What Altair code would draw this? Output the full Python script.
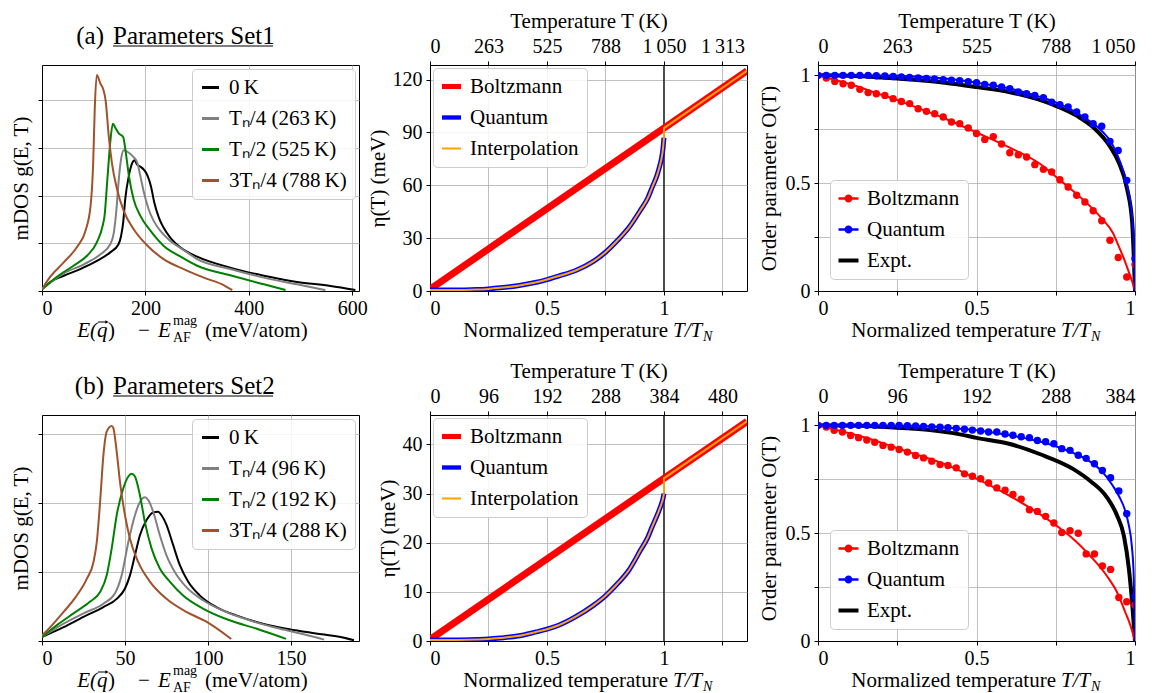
import altair as alt
import pandas as pd

FONT = "Liberation Serif"
W, H = 317, 226

# ---------------- mDOS (left panels) ----------------
dos_colors = ["#000000", "#808080", "#008000", "#a0522d"]
dos1_labels = ["0\u2009K", "T\u2099/4 (263\u2009K)", "T\u2099/2 (525\u2009K)", "3T\u2099/4 (788\u2009K)"]
dos2_labels = ["0\u2009K", "T\u2099/4 (96\u2009K)", "T\u2099/2 (192\u2009K)", "3T\u2099/4 (288\u2009K)"]

dos1_E_0K = [0, 16, 42, 74, 106, 132, 148, 153, 157, 161, 168, 174, 179, 184, 190, 198, 204, 211, 217, 226,
             235, 248, 268, 300, 364, 429, 493, 558, 606]
dos1_g_0K = [0.035, 0.19, 0.32, 0.46, 0.63, 0.81, 0.98, 1.16, 1.44, 1.93, 2.42, 2.67, 2.74, 2.65, 2.61, 2.53,
             2.42, 2.18, 1.86, 1.54, 1.33, 1.12, 0.91, 0.72, 0.49, 0.32, 0.19, 0.105, 0.02]
dos1_E_q1 = [0, 42, 81, 113, 132, 139, 144, 148, 153, 158, 168, 177, 184, 190, 197, 206, 216, 229, 248, 274,
             300, 364, 429, 493, 548]
dos1_g_q1 = [0.035, 0.37, 0.56, 0.77, 0.98, 1.23, 1.72, 2.28, 2.77, 2.95, 2.90, 2.81, 2.70, 2.42, 2.07, 1.72,
             1.47, 1.26, 1.05, 0.86, 0.67, 0.46, 0.28, 0.14, 0.02]
dos1_E_q2 = [0, 29, 61, 87, 106, 118, 121, 126, 132, 137, 142, 148, 157, 161, 168, 177, 190, 210, 235, 268,
             300, 364, 429, 471]
dos1_g_q2 = [0.035, 0.30, 0.53, 0.74, 1.02, 1.40, 1.58, 2.28, 3.12, 3.51, 3.42, 3.31, 3.23, 2.98, 2.42, 1.93,
             1.58, 1.26, 0.95, 0.72, 0.53, 0.33, 0.14, 0.02]
dos1_E_q3 = [0, 16, 42, 68, 84, 94, 99, 102, 106, 113, 119, 123, 129, 135, 145, 158, 177, 203, 235, 274, 313,
             352, 368]
dos1_g_q3 = [0.035, 0.30, 0.60, 0.93, 1.26, 1.79, 2.70, 3.82, 4.53, 4.35, 4.21, 4.00, 3.26, 2.70, 2.14, 1.68,
             1.30, 0.96, 0.67, 0.46, 0.28, 0.12, 0.02]

dos2_E_0K = [0, 13, 25, 37, 45, 50, 53, 56, 59, 63, 67, 70, 72, 75, 79, 83, 88, 95, 105, 117, 133, 149, 165,
             179, 188]
dos2_g_0K = [0.058, 0.20, 0.35, 0.49, 0.61, 0.76, 0.95, 1.24, 1.53, 1.75, 1.86, 1.87, 1.82, 1.68, 1.39, 1.10,
             0.86, 0.66, 0.49, 0.37, 0.25, 0.17, 0.11, 0.06, 0.01]
dos2_E_q1 = [0, 13, 25, 37, 44, 48, 52, 56, 59, 62, 64, 67, 71, 75, 80, 87, 97, 109, 125, 143, 159, 170]
dos2_g_q1 = [0.058, 0.25, 0.40, 0.54, 0.69, 0.95, 1.43, 1.82, 2.01, 2.08, 2.04, 1.87, 1.53, 1.24, 1.00, 0.78,
             0.59, 0.44, 0.30, 0.18, 0.09, 0.02]
dos2_E_q2 = [0, 9, 19, 29, 35, 39, 42, 45, 49, 52, 54, 56, 59, 62, 66, 71, 77, 85, 97, 113, 129, 147]
dos2_g_q2 = [0.058, 0.23, 0.40, 0.57, 0.71, 0.95, 1.34, 1.82, 2.21, 2.38, 2.42, 2.38, 2.11, 1.72, 1.34, 1.05,
             0.86, 0.66, 0.47, 0.30, 0.18, 0.03]
dos2_E_q3 = [0, 5, 13, 21, 27, 31, 33, 35, 37, 39, 42, 43, 45, 47, 50, 53, 58, 65, 75, 87, 99, 114]
dos2_g_q3 = [0.08, 0.20, 0.42, 0.66, 0.90, 1.14, 1.43, 2.01, 2.69, 3.03, 3.11, 3.08, 2.74, 2.30, 1.82, 1.48,
             1.14, 0.86, 0.61, 0.42, 0.28, 0.03]

# ---------------- eta(T) (middle panels) ----------------
eta_labels = ["Boltzmann", "Quantum", "Interpolation"]
eta_colors = ["#ff0000", "#0000ff", "#ffa500"]
q_t = [0, 0.1, 0.2, 0.25, 0.3, 0.375, 0.45, 0.5, 0.55, 0.625, 0.7, 0.75, 0.8, 0.85, 0.9, 0.93, 0.95, 0.97,
       0.98, 0.99, 0.996, 1.0]
q1_eta = [0.5, 0.5, 0.8, 1.2, 1.8, 3.0, 4.8, 6.5, 8.5, 11.8, 17.0, 22.0, 28.5, 36.0, 46.0, 52.5, 59.0, 65.5,
          70.0, 75.5, 81.0, 87.0]
q2_eta = [0.2, 0.2, 0.3, 0.4, 0.6, 1.0, 1.8, 2.4, 3.2, 5.0, 7.3, 9.2, 11.6, 14.4, 18.5, 21.0, 23.3, 25.5,
          26.7, 28.0, 29.0, 30.0]
b_t = [0, 1.0, 1.355]
b1_eta = [1.0, 92.5, 125.0]
b2_eta = [0.3, 33.1, 44.7]
# interpolation: quantum below T_N, then jump to Boltzmann above
jump_t = [1.0, 1.0, 1.355]
i1_jump = [87.0, 92.5, 125.0]
i2_jump = [30.0, 33.1, 44.7]

# ---------------- order parameter (right panels) ----------------
op_labels = ["Boltzmann", "Quantum", "Expt."]
op_colors = ["#ff0000", "#0000ff", "#000000"]
dots1_t = [0, 0.026, 0.053, 0.079, 0.105, 0.132, 0.158, 0.184, 0.211, 0.237, 0.263, 0.289, 0.316, 0.342,
           0.368, 0.395, 0.421, 0.447, 0.474, 0.5, 0.526, 0.553, 0.579, 0.605, 0.632, 0.658, 0.684, 0.711,
           0.737, 0.763, 0.789, 0.816, 0.842, 0.868, 0.895, 0.921, 0.947, 0.974, 1.0]
dots1_red = [1.0, 0.988, 0.972, 0.961, 0.954, 0.935, 0.920, 0.915, 0.907, 0.892, 0.879, 0.869, 0.845, 0.833,
             0.822, 0.807, 0.784, 0.776, 0.756, 0.730, 0.703, 0.716, 0.682, 0.641, 0.632, 0.621, 0.586, 0.564,
             0.552, 0.516, 0.482, 0.444, 0.413, 0.372, 0.326, 0.235, 0.155, 0.065, 0.122]
dots1_blue = [1.0, 1.0, 1.0, 1.0, 1.0, 1.0, 1.0, 0.998, 0.997, 0.995, 0.993, 0.99, 0.988, 0.986, 0.983, 0.98,
              0.977, 0.975, 0.971, 0.966, 0.958, 0.954, 0.946, 0.938, 0.923, 0.915, 0.907, 0.896, 0.876,
              0.864, 0.853, 0.830, 0.807, 0.776, 0.764, 0.694, 0.652, 0.513, 0.15]
fit1_red_t = [0, 0.1, 0.2, 0.25, 0.3, 0.4, 0.5, 0.6, 0.7, 0.764, 0.8, 0.85, 0.896, 0.93, 0.948, 0.965, 0.98,
              0.992, 1.0]
fit1_red = [1.0, 0.96, 0.91, 0.885, 0.857, 0.80, 0.735, 0.668, 0.59, 0.513, 0.47, 0.405, 0.335, 0.27, 0.21,
            0.15, 0.09, 0.04, 0.0]
fit1_blue_t = [0, 0.2, 0.3, 0.4, 0.5, 0.6, 0.7, 0.75, 0.8, 0.85, 0.87, 0.9, 0.92, 0.95, 0.974, 0.988, 0.996, 1.0]
fit1_blue = [1.0, 0.999, 0.995, 0.985, 0.966, 0.94, 0.9, 0.875, 0.84, 0.795, 0.775, 0.735, 0.70, 0.61, 0.50,
             0.38, 0.24, 0.0]
expt1_t = [0, 0.1, 0.2, 0.25, 0.4, 0.5, 0.606, 0.738, 0.817, 0.869, 0.922, 0.948, 0.975, 0.991, 1.0]
expt1 = [1.0, 0.998, 0.99, 0.985, 0.966, 0.946, 0.922, 0.866, 0.812, 0.758, 0.668, 0.598, 0.474, 0.32, 0.0]

dots2_t = [0, 0.026, 0.051, 0.077, 0.103, 0.128, 0.154, 0.179, 0.205, 0.231, 0.256, 0.282, 0.308, 0.333,
           0.359, 0.385, 0.41, 0.436, 0.462, 0.487, 0.513, 0.538, 0.564, 0.59, 0.615, 0.641, 0.667, 0.692,
           0.718, 0.744, 0.769, 0.795, 0.821, 0.846, 0.872, 0.897, 0.923, 0.949, 0.974, 1.0]
dots2_red = [1.0, 0.992, 0.977, 0.969, 0.953, 0.943, 0.932, 0.922, 0.907, 0.899, 0.888, 0.876, 0.860, 0.849,
             0.834, 0.818, 0.814, 0.803, 0.775, 0.764, 0.752, 0.733, 0.710, 0.699, 0.679, 0.658, 0.609, 0.601,
             0.578, 0.547, 0.503, 0.512, 0.500, 0.404, 0.404, 0.348, 0.332, 0.202, 0.182, 0.166]
dots2_blue = [1.0, 1.0, 1.0, 1.0, 1.0, 1.0, 1.0, 1.0, 1.0, 1.0, 0.999, 0.998, 0.997, 0.995, 0.993, 0.991,
              0.989, 0.986, 0.982, 0.978, 0.974, 0.969, 0.969, 0.960, 0.954, 0.947, 0.943, 0.930, 0.924,
              0.915, 0.892, 0.884, 0.861, 0.847, 0.822, 0.791, 0.757, 0.696, 0.590, 0.206]
fit2_red_t = [0, 0.1, 0.2, 0.25, 0.3, 0.4, 0.49, 0.596, 0.701, 0.77, 0.807, 0.859, 0.912, 0.944, 0.97, 0.986, 1.0]
fit2_red = [1.0, 0.963, 0.92, 0.894, 0.87, 0.82, 0.76, 0.68, 0.587, 0.515, 0.471, 0.394, 0.30, 0.224, 0.131,
            0.07, 0.0]
fit2_blue_t = [0, 0.3, 0.4, 0.5, 0.6, 0.7, 0.8, 0.85, 0.9, 0.93, 0.95, 0.97, 0.98, 0.99, 0.996, 1.0]
fit2_blue = [1.0, 0.998, 0.99, 0.977, 0.955, 0.925, 0.875, 0.84, 0.78, 0.72, 0.67, 0.60, 0.54, 0.44, 0.30, 0.0]
expt2_t = [0, 0.1, 0.2, 0.25, 0.353, 0.448, 0.5, 0.596, 0.701, 0.807, 0.859, 0.912, 0.944, 0.965, 0.981,
           0.991, 1.0]
expt2 = [1.0, 0.999, 0.993, 0.989, 0.978, 0.958, 0.942, 0.917, 0.866, 0.796, 0.742, 0.665, 0.58, 0.487,
         0.332, 0.178, 0.0]

# tick labels
tick_frac = [0, 0.25, 0.5, 0.75, 1.0, 1.25]
tick_frac_labels = ["0", "", "0.5", "", "1", ""]
top1_labels = ["0", "263", "525", "788", "1\u2009050", "1\u2009313"]
top2_labels = ["0", "96", "192", "288", "384", "480"]
op_ticks = [0, 0.25, 0.5, 0.75, 1.0]
op_tick_labels = ["0", "", "0.5", "", "1"]


def label_expr(vals, labs):
    expr = "''"
    for v, l in reversed(list(zip(vals, labs))):
        expr = f"abs(datum.value - {v}) < 1e-6 ? '{l}' : ({expr})"
    return expr


def curve(xs, ys):
    return pd.DataFrame({"x": xs, "y": ys, "i": list(range(len(xs)))})


def text(txt, x, y, size=21, align="left", italic=False):
    return alt.Chart(pd.DataFrame({"t": [txt]})).mark_text(
        font=FONT, fontSize=size, align=align, baseline="alphabetic",
        fontStyle="italic" if italic else "normal", color="black"
    ).encode(text="t:N", x=alt.value(x), y=alt.value(y))


def legend_layer(labels, colors, shapes, size, orient, offset):
    leg = alt.Legend(title=None, orient=orient, offset=offset, fillColor="rgba(255,255,255,0.85)",
                     strokeColor="#cccccc", cornerRadius=4, padding=8, labelFont=FONT, labelFontSize=21,
                     labelColor="black", rowPadding=9, labelOffset=8, symbolStrokeWidth=0,
                     symbolSize=size, symbolOpacity=1)
    return alt.Chart(pd.DataFrame({"s": labels})).transform_filter("false").mark_point(
        filled=True, size=size, opacity=1
    ).encode(
        x=alt.value(0), y=alt.value(0),
        color=alt.Color("s:N", scale=alt.Scale(domain=labels, range=colors), legend=leg),
        shape=alt.Shape("s:N", scale=alt.Scale(domain=labels, range=shapes), legend=leg),
    )


def bar_path(h):
    return f"M-1,-{h}H1V{h}H-1Z"


def dot_path(h, r):
    return (f"M-1,-{h}H1V{h}H-1Z M{r},0A{r},{r},0,1,1,-{r},0A{r},{r},0,1,1,{r},0Z")


def title_layers(letter, name, uline_end):
    return [
        text(letter, 62, -21, size=25, align="right"),
        text(name, 71, -21, size=25),
        alt.Chart(pd.DataFrame({"a": [0]})).mark_rule(color="black", strokeWidth=1.2).encode(
            x=alt.value(71), x2=alt.value(uline_end), y=alt.value(-19)),
    ]


def norm_title():
    return [
        text("Normalized temperature", 238, H + 46, align="right"),
        text("T/T", 243, H + 46, italic=True),
        text("N", 273, H + 50, size=14, italic=True),
    ]


def vec_arrow(x0, x1, y):
    shaft = alt.Chart(pd.DataFrame({"a": [0]})).mark_rule(color="black", strokeWidth=1).encode(
        x=alt.value(x0), x2=alt.value(x1 - 1), y=alt.value(y))
    head = alt.Chart(pd.DataFrame({"a": [0]})).mark_point(
        shape="triangle-right", filled=True, color="black", size=14, opacity=1).encode(
        x=alt.value(x1), y=alt.value(y))
    return [shaft, head]


def left_panel(Es, gs, labels, xmax, ymax, xticks, yticks, letter, name):
    layers = []
    for E, g, c in zip(Es, gs, dos_colors):
        layers.append(alt.Chart(curve(E, g)).mark_line(color=c, strokeWidth=2, clip=True,
                                                       interpolate="monotone").encode(
            x=alt.X("x:Q", scale=alt.Scale(domain=[0, xmax], nice=False, zero=False),
                    axis=alt.Axis(values=xticks, title=None, grid=True, format="d", labelPadding=3)),
            y=alt.Y("y:Q", scale=alt.Scale(domain=[0, ymax], nice=False, zero=False),
                    axis=alt.Axis(values=yticks, labels=False, title="mDOS g(E, T)", grid=True,
                                  titlePadding=6)),
            order="i:Q"))
    shapes = [bar_path(0.18)] * 4
    layers.append(legend_layer(labels, dos_colors, shapes, 289, "top-right", 4))
    layers += title_layers(letter, name, 231)
    layers += [
        text("E(", 55, H + 46, align="right", italic=True),
        text("q", 55, H + 46, italic=True),
        text(")", 66, H + 46),
        text("\u2212", 102, H + 46, align="center"),
        text("E", 116, H + 46, italic=True),
        text("mag", 131, H + 34, size=14),
        text("AF", 131, H + 51, size=14),
        text("(meV/atom)", 163, H + 46),
    ]
    layers += vec_arrow(56, 65, H + 31)
    return alt.layer(*layers).properties(width=W, height=H)


def mid_panel(q_eta, b_eta, i_jump, ymax, yticks, top_labels):
    xs = alt.Scale(domain=[0, 1.355], nice=False, zero=False)
    xaxis = alt.Axis(values=tick_frac, labelExpr=label_expr(tick_frac, tick_frac_labels), title=None,
                     grid=True, labelPadding=3)
    yaxis = alt.Axis(values=yticks, title="\u03b7(T) (meV)", grid=True, titlePadding=4, labelPadding=4)
    ys = alt.Scale(domain=[0, ymax], nice=False, zero=False)
    base_x = alt.X("x:Q", scale=xs, axis=xaxis)
    base_y = alt.Y("y:Q", scale=ys, axis=yaxis)
    top = alt.Chart(pd.DataFrame({"x": [1.0], "y": [0.0]})).mark_rule(color="black", strokeWidth=1.3).encode(
        x=alt.X("x:Q", scale=xs, axis=alt.Axis(orient="top", values=tick_frac,
                                                labelExpr=label_expr(tick_frac, top_labels),
                                                title="Temperature T (K)", grid=False, labelPadding=5,
                                                titlePadding=5)),
        y=alt.value(0), y2=alt.value(H))
    red = alt.Chart(curve(b_t, b_eta)).mark_line(color=eta_colors[0], strokeWidth=7, clip=True).encode(
        x=base_x, y=base_y, order="i:Q")
    blue = alt.Chart(curve(q_t, q_eta)).mark_line(color=eta_colors[1], strokeWidth=5, clip=True,
                                                  interpolate="monotone").encode(
        x=base_x, y=base_y, order="i:Q")
    orange_q = alt.Chart(curve(q_t, q_eta)).mark_line(color=eta_colors[2], strokeWidth=2, clip=True,
                                                      interpolate="monotone").encode(
        x=base_x, y=base_y, order="i:Q")
    orange_b = alt.Chart(curve(jump_t, i_jump)).mark_line(color=eta_colors[2], strokeWidth=2,
                                                          clip=True).encode(
        x=base_x, y=base_y, order="i:Q")
    shapes = [bar_path(0.27), bar_path(0.23), bar_path(0.11)]
    leg = legend_layer(eta_labels, eta_colors, shapes, 361, "top-left", 3)
    main = alt.layer(red, blue, orange_q, orange_b, leg, *norm_title())
    return alt.layer(top, main).resolve_scale(x="independent").properties(width=W, height=H)


def right_panel(dt, dred, dblue, frt, fr, fbt, fb, et, ev, top_labels):
    xs = alt.Scale(domain=[0, 1.0], nice=False, zero=False)
    ys = alt.Scale(domain=[0, 1.048], nice=False, zero=False)
    xaxis = alt.Axis(values=op_ticks, labelExpr=label_expr(op_ticks, op_tick_labels), title=None,
                     grid=True, labelPadding=3)
    yaxis = alt.Axis(values=op_ticks, labelExpr=label_expr(op_ticks, op_tick_labels),
                     title="Order parameter O(T)", grid=True, titlePadding=6, labelPadding=4)
    bx = alt.X("x:Q", scale=xs, axis=xaxis)
    by = alt.Y("y:Q", scale=ys, axis=yaxis)
    top = alt.Chart(pd.DataFrame({"x": [0.0], "y": [0.0]})).transform_filter("false").mark_point(
        opacity=0).encode(
        x=alt.X("x:Q", scale=xs, axis=alt.Axis(orient="top", values=op_ticks,
                                                labelExpr=label_expr(op_ticks, top_labels),
                                                title="Temperature T (K)", grid=False, labelPadding=5,
                                                titlePadding=5)),
        y=alt.value(0))
    black = alt.Chart(curve(et, ev)).mark_line(color="black", strokeWidth=4, clip=True,
                                               interpolate="monotone").encode(
        x=bx, y=by, order="i:Q")
    rline = alt.Chart(curve(frt, fr)).mark_line(color="#ff0000", strokeWidth=2, clip=True,
                                                interpolate="monotone").encode(
        x=bx, y=by, order="i:Q")
    bline = alt.Chart(curve(fbt, fb)).mark_line(color="#0000ff", strokeWidth=2, clip=True,
                                                interpolate="monotone").encode(
        x=bx, y=by, order="i:Q")
    rdots = alt.Chart(curve(dt, dred)).mark_circle(color="#ff0000", size=55, opacity=1, clip=True).encode(
        x=bx, y=by)
    bdots = alt.Chart(curve(dt, dblue)).mark_circle(color="#0000ff", size=55, opacity=1, clip=True).encode(
        x=bx, y=by)
    shapes = [dot_path(0.12, 0.4), dot_path(0.12, 0.4), bar_path(0.2)]
    leg = legend_layer(op_labels, op_colors, shapes, 400, "bottom-left", 12)
    main = alt.layer(black, rline, rdots, bline, bdots, leg, *norm_title())
    return alt.layer(main, top).resolve_scale(x="independent").properties(width=W, height=H)


left1 = left_panel([dos1_E_0K, dos1_E_q1, dos1_E_q2, dos1_E_q3], [dos1_g_0K, dos1_g_q1, dos1_g_q2, dos1_g_q3],
                   dos1_labels, 613, 4.74, [0, 200, 400, 600], [0, 1, 2, 3, 4], "(a)", "Parameters Set1")
left2 = left_panel([dos2_E_0K, dos2_E_q1, dos2_E_q2, dos2_E_q3], [dos2_g_0K, dos2_g_q1, dos2_g_q2, dos2_g_q3],
                   dos2_labels, 191, 3.27, [0, 50, 100, 150], [0, 1, 2, 3], "(b)", "Parameters Set2")
mid1 = mid_panel(q1_eta, b1_eta, i1_jump, 128.3, [0, 30, 60, 90, 120], top1_labels)
mid2 = mid_panel(q2_eta, b2_eta, i2_jump, 46.0, [0, 10, 20, 30, 40], top2_labels)
right1 = right_panel(dots1_t, dots1_red, dots1_blue, fit1_red_t, fit1_red, fit1_blue_t, fit1_blue,
                     expt1_t, expt1, top1_labels[:5])
right2 = right_panel(dots2_t, dots2_red, dots2_blue, fit2_red_t, fit2_red, fit2_blue_t, fit2_blue,
                     expt2_t, expt2, top2_labels[:5])

res = dict(x="independent", y="independent", color="independent", shape="independent")
chart = alt.concat(left1, mid1, right1, left2, mid2, right2, columns=3,
                   spacing={"row": 124, "column": 71}, bounds="flush").resolve_scale(**res).resolve_legend(
    color="independent", shape="independent").properties(
    padding={"left": 2, "top": 1, "right": 0, "bottom": 0}
).configure(background="white").configure_view(stroke="black", strokeWidth=1).configure_axis(
    labelFont=FONT, titleFont=FONT, labelFontSize=20, titleFontSize=21, titleFontWeight="normal",
    labelColor="black", titleColor="black", domainColor="black", tickColor="black", tickSize=4,
    gridColor="#b0b0b0", gridWidth=0.8, domainWidth=1
)

chart.save("out.html", embed_options={"renderer": "svg", "actions": False})
